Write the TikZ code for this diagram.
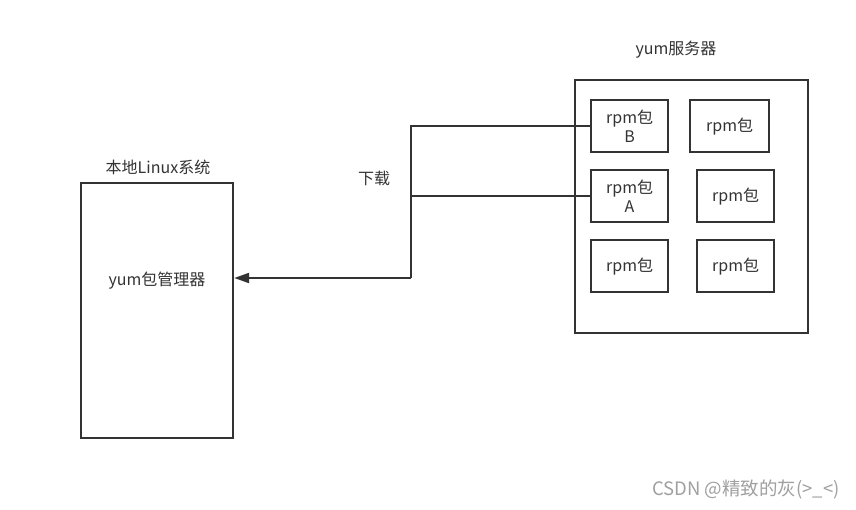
\documentclass[tikz,border=0pt]{standalone}
\usepackage{fontspec}
\setmainfont{Noto Sans CJK SC}
\usetikzlibrary{arrows.meta}
\definecolor{ink}{HTML}{333333}
\definecolor{wm}{HTML}{A0A0A0}
\begin{document}
\begin{tikzpicture}[x=1pt,y=1pt,
  box/.style={draw=ink,line width=2.2pt,inner sep=0pt,anchor=north west},
  lbl/.style={text=ink,font=\fontsize{16}{19}\selectfont,inner sep=0pt,align=center},
  conn/.style={draw=ink,line width=2.2pt},
  tip/.style={-{Triangle[length=15pt,width=10pt]}}]
\useasboundingbox[fill=white] (0,0) rectangle (856,-509);
% local box
\node[box,minimum width=152pt,minimum height=255pt] (local) at (80,-182) {};
\node[lbl] (localtitle) at (158,-167) {本地Linux系统};
\node[lbl] (mgr) at (157,-281) {yum包管理器};
% server box
\node[box,minimum width=233pt,minimum height=253pt] (server) at (574,-79) {};
\node[lbl] (servertitle) at (676,-50) {yum服务器};
% packages
\node[box,minimum width=77pt,minimum height=52pt] (B) at (590,-99) {};
\node[lbl] at (B.center) {rpm包\\B};
\node[box,minimum width=79pt,minimum height=52pt] (P1) at (689,-99) {};
\node[lbl] at (P1.center) {rpm包};
\node[box,minimum width=77pt,minimum height=52pt] (A) at (590,-169) {};
\node[lbl] at (A.center) {rpm包\\A};
\node[box,minimum width=77pt,minimum height=52pt] (P2) at (696,-169) {};
\node[lbl] at (P2.center) {rpm包};
\node[box,minimum width=77pt,minimum height=52pt] (P3) at (590,-239) {};
\node[lbl] at (P3.center) {rpm包};
\node[box,minimum width=77pt,minimum height=52pt] (P4) at (696,-239) {};
\node[lbl] at (P4.center) {rpm包};
% connectors
\coordinate (turn) at (411,-278);
\draw[conn] (B.west) -| (turn);
\draw[conn] (A.west) -- (A.west -| turn);
\draw[conn,tip] (turn) -- (local.east |- turn);
\node[lbl] (dl) at (374,-178) {下载};
% watermark
\node[text=wm,font=\fontsize{18.5}{22}\selectfont,inner sep=0pt,anchor=east] (mark) at (840,-489) {CSDN @精致的灰(>\_<)};
\end{tikzpicture}
\end{document}
